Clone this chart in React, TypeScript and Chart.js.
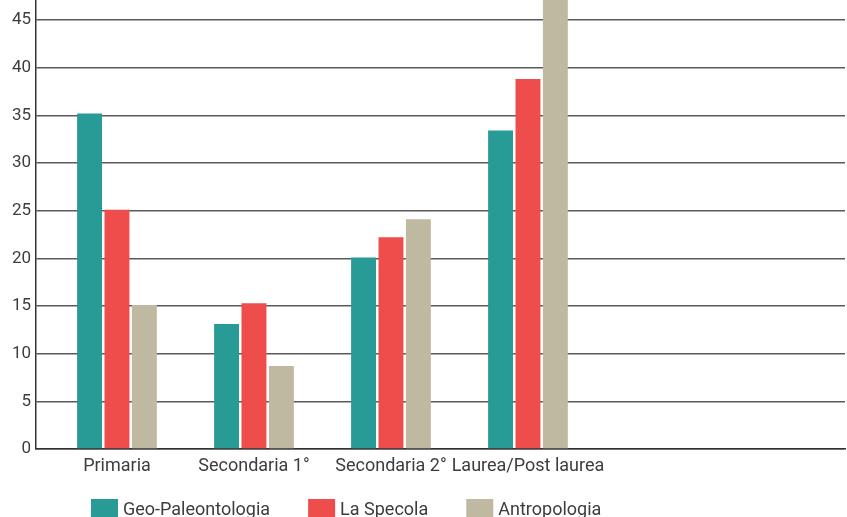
import React, { useEffect, useRef } from 'react';
import { Chart, registerables } from 'chart.js';

Chart.register(...registerables);

const categories = ['Primaria', 'Secondaria 1°', 'Secondaria 2°', 'Laurea/Post laurea'];
const seriesNames = ['Geo-Paleontologia', 'La Specola', 'Antropologia'];
const geoPaleontologia = [35.2, 13.1, 20.1, 33.4];
const laSpecola = [25.1, 15.3, 22.2, 38.8];
const antropologia = [15.1, 8.7, 24.1, 48];
const seriesColors = ['#289B97', '#EF4D4B', '#BFB9A1'];
const yStep = 5;

const FONT = 'Roboto, "Open Sans", sans-serif';
const TEXT = '#3d3d3d';

const legendPlugin = {
  id: 'customLegend',
  afterDraw(chart: any) {
    const ctx = chart.ctx;
    ctx.save();
    ctx.font = `18px ${FONT}`;
    ctx.textBaseline = 'alphabetic';
    let x = 91;
    chart.data.datasets.forEach((ds: any) => {
      ctx.fillStyle = ds.backgroundColor;
      ctx.fillRect(x, 499, 27, 20);
      ctx.fillStyle = TEXT;
      ctx.fillText(ds.label, x + 32, 515);
      x += 32 + ctx.measureText(ds.label).width + 38;
    });
    ctx.restore();
  },
};

export default function App() {
  const ref = useRef<HTMLCanvasElement | null>(null);

  useEffect(() => {
    if (!ref.current) return;
    const allSeries = [geoPaleontologia, laSpecola, antropologia];
    const chart = new Chart(ref.current, {
      type: 'bar',
      data: {
        datasets: allSeries.map((values, si) => ({
          label: seriesNames[si],
          data: values.map((v, i) => ({ x: i, y: v })),
          backgroundColor: seriesColors[si],
          borderWidth: 0,
          categoryPercentage: 0.6,
          barPercentage: 0.91,
        })),
      },
      options: {
        animation: false,
        responsive: false,
        devicePixelRatio: 1,
        layout: { padding: { left: 0, top: 0, right: 2, bottom: 28 } },
        plugins: { legend: { display: false }, tooltip: { enabled: false } },
        scales: {
          x: {
            type: 'linear',
            offset: false,
            min: -0.591,
            max: 5.314,
            grid: { display: false, drawTicks: false, offset: false },
            border: { display: true, color: '#333333', width: 1.5 },
            afterBuildTicks: (axis: any) => {
              axis.ticks = categories.map((_, i) => ({ value: i }));
            },
            afterFit: (axis: any) => {
              axis.height = 40;
              axis.paddingLeft = 0;
              axis.paddingRight = 0;
            },
            ticks: {
              padding: 7,
              color: TEXT,
              font: { family: FONT, size: 18 },
              maxRotation: 0,
              autoSkip: false,
              callback: (value: any) => categories[value as number] ?? '',
            },
          },
          y: {
            min: 0,
            max: 47.1,
            grid: { color: '#5a5a5a', lineWidth: 1.4, drawTicks: false },
            border: { display: true, color: '#333333', width: 1.5 },
            afterFit: (axis: any) => {
              axis.width = 36;
              axis.paddingTop = 0;
              axis.paddingBottom = 0;
            },
            ticks: {
              stepSize: yStep,
              includeBounds: false,
              padding: 5,
              color: TEXT,
              font: { family: FONT, size: 17 },
            },
          },
        },
      },
      plugins: [legendPlugin],
    } as any);
    return () => chart.destroy();
  }, []);

  return (
    <div style={{ position: 'fixed', left: 0, top: 0, width: 847, height: 517, background: '#fff' }}>
      <canvas ref={ref} width={847} height={517} style={{ display: 'block' }} />
    </div>
  );
}
